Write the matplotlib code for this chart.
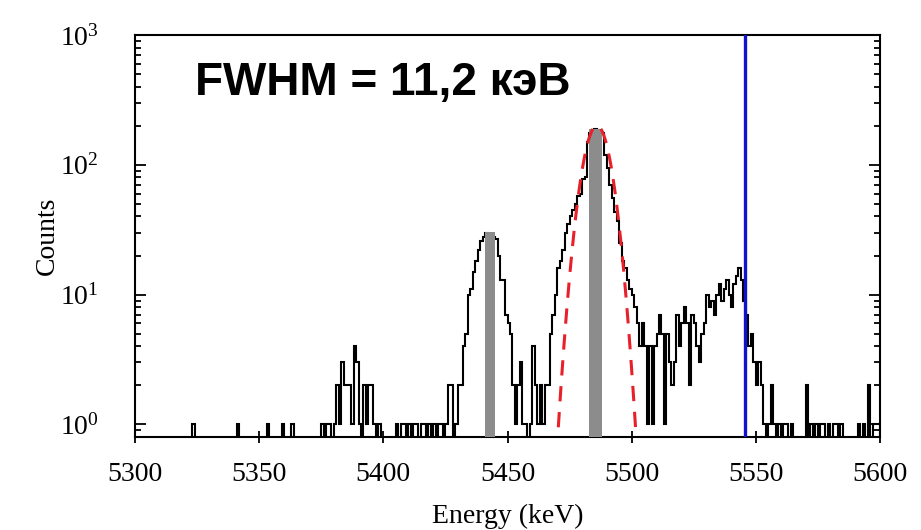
import numpy as np
import matplotlib.pyplot as plt

plt.rcParams['font.family'] = ['Liberation Serif', 'DejaVu Serif']
plt.rcParams['mathtext.fontset'] = 'stix'

# 1 keV bins, starting at 5300 keV
bin_start = 5300
counts = [
    # 5300-5319
    0, 0, 0, 0, 0, 0, 0, 0, 0, 0, 0, 0, 0, 0, 0, 0, 0, 0, 0, 0,
    # 5320-5339
    0, 0, 0, 1, 0, 0, 0, 0, 0, 0, 0, 0, 0, 0, 0, 0, 0, 0, 0, 0,
    # 5340-5359
    0, 1, 0, 0, 0, 0, 0, 0, 0, 0, 0, 0, 0, 1, 0, 0, 0, 0, 0, 1,
    # 5360-5379
    0, 0, 0, 1, 0, 0, 0, 0, 0, 0, 0, 0, 0, 0, 0, 1, 0, 1, 1, 0,
    # 5380-5399
    1, 2, 1, 3, 2, 2, 2, 1, 4, 3, 1, 0, 2, 1, 2, 2, 1, 0, 1, 0,
    # 5400-5419
    0, 0, 0, 0, 0, 1, 0, 1, 1, 0, 1, 0, 1, 1, 0, 1, 1, 0, 1, 0,
    # 5420-5439
    1, 0, 1, 1, 0, 1, 2, 2, 0, 1, 2, 2, 4, 5, 10, 11, 15, 18, 22, 26,
    # 5440-5459
    28, 30, 28, 29, 28, 27, 20, 13, 13, 7, 6, 5, 2, 1, 2, 3, 1, 1, 0, 1,
    # 5460-5479
    4, 2, 1, 2, 1, 2, 2, 5, 7, 10, 16, 18, 22, 30, 35, 40, 45, 50, 57, 60,
    # 5480-5499
    78, 80, 150, 175, 185, 190, 185, 180, 175, 120, 95, 70, 55, 43, 37, 25, 18, 16, 13, 11,
    # 5500-5519
    10, 8, 6, 4, 6, 4, 1, 4, 1, 4, 5, 7, 5, 1, 5, 3, 2, 3, 7, 4,
    # 5520-5539
    6, 8, 6, 2, 7, 6, 4, 3, 5, 6, 10, 8, 9, 7, 10, 12, 9, 11, 13, 10,
    # 5540-5559
    8, 12, 14, 16, 13, 9, 7, 4, 5, 3, 2, 3, 2, 1, 0, 1, 2, 1, 0, 1,
    # 5560-5579
    0, 1, 1, 0, 1, 0, 0, 0, 0, 0, 2, 0, 1, 0, 1, 0, 1, 1, 0, 1,
    # 5580-5599
    0, 1, 1, 0, 1, 0, 0, 0, 0, 0, 0, 1, 0, 1, 0, 2, 0, 1, 1, 1,
]

# grey markers of the expected line positions
line_energy = [5443.0, 5485.5]
line_height = [30, 190]
line_width = [4.0, 5.0]

# gaussian fit
fit_center = 5486.0
fit_amplitude = 200.0
fit_fwhm = 11.2

cut_energy = 5545.5

edges = bin_start + np.arange(len(counts) + 1)
vals = np.array(counts, dtype=float)
vals[vals <= 0] = 0.1

fig = plt.figure(figsize=(9.21, 5.30), dpi=100)
ax = fig.add_axes([0.1466, 0.1755, 0.8089, 0.7585])

ax.stairs(vals, edges, color='black', lw=1.5, baseline=0.1, zorder=2)
ax.bar(line_energy, line_height, width=line_width, bottom=0.1,
       color='#8c8c8c', zorder=3)

sigma = fit_fwhm / 2.3548
xg = np.linspace(fit_center - 22, fit_center + 22, 400)
ax.plot(xg, fit_amplitude * np.exp(-0.5 * ((xg - fit_center) / sigma) ** 2),
        color='#e8202a', lw=2.2, ls=(0, (5, 3.5)), zorder=4)

ax.axvline(cut_energy, color='#1010d0', lw=2.4, zorder=5)

ax.set_yscale('log')
ax.set_xlim(5300, 5600)
ax.set_ylim(0.8, 1000)
ax.set_xticks(np.arange(5300, 5601, 50))

for s in ax.spines.values():
    s.set_linewidth(1.5)
ax.tick_params(axis='x', which='major', direction='inout', length=8, width=1.3,
               labelsize=20, pad=14)
ax.tick_params(axis='y', which='both', direction='in', right=True, width=1.3,
               labelsize=20, pad=26)
ax.tick_params(axis='y', which='major', length=8)
ax.tick_params(axis='y', which='minor', length=4)

ax.set_xlabel('Energy (keV)', fontsize=20, labelpad=12)
ax.set_ylabel('Counts', fontsize=20, labelpad=0)

ax.text(0.081, 0.851, 'FWHM = 11,2 кэВ', transform=ax.transAxes,
        fontsize=33, fontweight='bold', family=['Liberation Sans', 'DejaVu Sans'],
        ha='left', va='baseline', zorder=6)

fig.savefig('out.png', dpi=100)
